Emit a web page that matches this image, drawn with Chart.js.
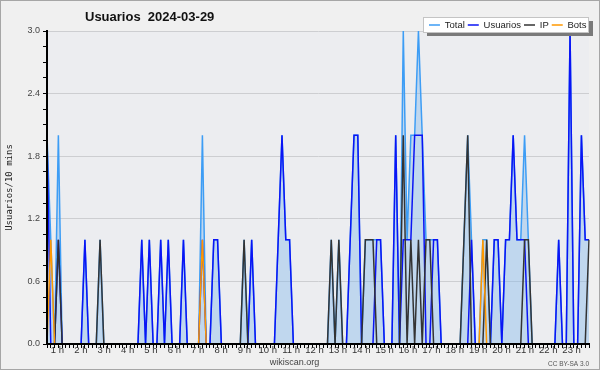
<!DOCTYPE html>
<html><head><meta charset="utf-8">
<script src="https://cdn.jsdelivr.net/npm/chart.js@4/dist/chart.umd.min.js"></script>
<style>html,body{margin:0;padding:0;background:#f0f0f0}#wrap{width:600px;height:370px}</style>
</head><body><div id="wrap"><canvas id="c" width="600" height="370"></canvas></div>
<script>
// 10-minute bins of the day (categories)
const timeLabels = [];
for (let h = 0; h < 24; h++) for (let m = 0; m < 60; m += 10) timeLabels.push(String(h).padStart(2,'0') + ':' + String(m).padStart(2,'0'));

const hourLabels = ['1 h','2 h','3 h','4 h','5 h','6 h','7 h','8 h','9 h','10 h','11 h','12 h','13 h','14 h','15 h','16 h','17 h','18 h','19 h','20 h','21 h','22 h','23 h'];
const yTickLabels = ['0.0','0.6','1.2','1.8','2.4','3.0'];

const total = [
 2,1,0,2,0,0,0,0,0,0,1,0,
 0,0,1,0,0,0,0,0,0,0,0,0,
 0,1,0,1,0,0,1,0,1,0,0,0,
 1,0,0,0,0,2,0,0,1,1,0,0,
 0,0,0,0,1,0,1,0,0,0,0,0,
 0,1,2,1,1,0,0,0,0,0,0,0,
 0,0,0,1,0,1,0,0,1,2,2,0,
 1,1,1,1,1,0,0,0,2,0,3,1,
 2,2,3,2,1,1,1,1,0,0,0,0,
 0,0,1,2,1,0,0,1,1,0,1,1,
 0,1,1,2,1,1,2,1,0,0,0,0,
 0,0,0,1,0,0,3,0,0,2,1,1
];
const usuarios = [
 2,0,0,1,0,0,0,0,0,0,1,0,
 0,0,0,0,0,0,0,0,0,0,0,0,
 0,1,0,1,0,0,1,0,1,0,0,0,
 1,0,0,0,0,1,0,0,1,1,0,0,
 0,0,0,0,0,0,1,0,0,0,0,0,
 0,1,2,1,1,0,0,0,0,0,0,0,
 0,0,0,0,0,0,0,0,1,2,2,0,
 0,0,0,1,1,0,0,0,2,0,1,1,
 1,2,2,2,0,0,1,1,0,0,0,0,
 0,0,0,0,1,0,0,0,0,0,1,1,
 0,1,1,2,1,1,1,0,0,0,0,0,
 0,0,0,1,0,0,3,0,0,2,1,1
];
const ip = [
 0,0,0,1,0,0,0,0,0,0,0,0,
 0,0,1,0,0,0,0,0,0,0,0,0,
 0,0,0,0,0,0,0,0,0,0,0,0,
 0,0,0,0,0,0,0,0,0,0,0,0,
 0,0,0,0,1,0,0,0,0,0,0,0,
 0,0,0,0,0,0,0,0,0,0,0,0,
 0,0,0,1,0,1,0,0,0,0,0,0,
 1,1,1,0,0,0,0,0,0,0,2,0,
 1,0,1,0,1,1,0,0,0,0,0,0,
 0,0,1,2,0,0,0,0,1,0,0,0,
 0,0,0,0,0,0,1,1,0,0,0,0,
 0,0,0,0,0,0,0,0,0,0,0,1
];
const bots = [
 0,1,0,0,0,0,0,0,0,0,0,0,
 0,0,0,0,0,0,0,0,0,0,0,0,
 0,0,0,0,0,0,0,0,0,0,0,0,
 0,0,0,0,0,1,0,0,0,0,0,0,
 0,0,0,0,0,0,0,0,0,0,0,0,
 0,0,0,0,0,0,0,0,0,0,0,0,
 0,0,0,0,0,0,0,0,0,0,0,0,
 0,0,0,0,0,0,0,0,0,0,0,0,
 0,0,0,0,0,0,0,0,0,0,0,0,
 0,0,0,0,0,0,0,1,0,0,0,0,
 0,0,0,0,0,0,0,0,0,0,0,0,
 0,0,0,0,0,0,0,0,0,0,0,0
];

const yTickValues = [];
for (let k = 0; k <= 20; k++) yTickValues.push(Math.round(k * 15) / 100);

const decor = {
  id: 'decor',
  beforeDraw(chart) {
    const {ctx, chartArea: a} = chart;
    ctx.save();
    ctx.fillStyle = '#f0f0f0'; ctx.fillRect(0, 0, chart.width, chart.height);
    ctx.fillStyle = '#ecedf0'; ctx.fillRect(a.left, a.top, a.right - a.left, a.bottom - a.top);
    ctx.strokeStyle = '#a6a6a6'; ctx.lineWidth = 1; ctx.strokeRect(0.5, 0.5, chart.width - 1, chart.height - 1);
    ctx.restore();
    if (chart.titleBlock) { chart.titleBlock.top = 9.3; chart.titleBlock.left = 85; }
    if (chart.legend) { chart.legend.top = -300; }
  },
  afterDatasetsDraw(chart) {
    const ctx = chart.ctx;
    ctx.save();
    ctx.fillStyle = '#7a7a7a'; ctx.fillRect(427, 21, 166, 15);
    ctx.fillStyle = '#ffffff'; ctx.fillRect(423, 17, 166, 16);
    ctx.strokeStyle = '#c4c4c4'; ctx.lineWidth = 1; ctx.strokeRect(423.5, 17.5, 165, 15);
    ctx.restore();
    const lg = chart.legend;
    if (lg) { lg.top = 17.25; lg.right = 589.5; lg.draw(); }
    ctx.save();
    ctx.font = '6.5px "Liberation Sans"'; ctx.fillStyle = '#555'; ctx.textAlign = 'right'; ctx.textBaseline = 'alphabetic';
    ctx.fillText('CC BY-SA 3.0', 589, 365.5);
    ctx.restore();
  }
};

const lineDs = (label, data, color, order, extra) => Object.assign({
  label, data, borderColor: color, backgroundColor: color, borderWidth: 1.5,
  pointRadius: 0, pointHoverRadius: 0, fill: false, tension: 0, order
}, extra || {});

new Chart(document.getElementById('c'), {
  type: 'line',
  data: {
    labels: timeLabels,
    datasets: [
      lineDs('Total', total, '#3d9df5', 4, {fill: 'origin', backgroundColor: 'rgba(130,185,235,0.42)'}),
      lineDs('Usuarios', usuarios, '#0a14f5', 3),
      lineDs('IP', ip, '#333333', 2),
      lineDs('Bots', bots, '#ff9900', 1)
    ]
  },
  options: {
    responsive: false, animation: false, devicePixelRatio: 1,
    layout: {padding: {left: 0, right: 11, top: 0, bottom: 0}},
    plugins: {
      tooltip: {enabled: false},
      title: {display: true, text: 'Usuarios  2024-03-29', align: 'start',
        font: {family: 'Liberation Sans', size: 13, weight: 'bold', lineHeight: 1.2},
        color: '#111', padding: {top: 0, bottom: 0.4}},
      subtitle: {display: true, position: 'bottom', text: 'wikiscan.org',
        font: {family: 'Liberation Sans', size: 9, lineHeight: 1.2}, color: '#444',
        padding: {top: 0, bottom: 2.5}},
      legend: {display: true, position: 'top', align: 'end', maxHeight: 15,
        labels: {usePointStyle: true, pointStyle: 'line', pointStyleWidth: 11, padding: 3,
          sort: (a, b) => a.datasetIndex - b.datasetIndex,
          font: {family: 'Liberation Sans', size: 9.5}, color: '#222'}}
    },
    scales: {
      x: {type: 'category', position: 'bottom', weight: 0, offset: false,
        grid: {display: true, drawOnChartArea: false, drawTicks: true, tickLength: 4, tickColor: '#000', tickWidth: 1, offset: false},
        border: {display: true, color: '#000', width: 2, z: 1},
        ticks: {display: false},
        afterFit(s) { s.height = 1; }},
      xh: {type: 'linear', position: 'bottom', weight: 1, min: 0.552, max: 23.744,
        grid: {display: false, drawTicks: false}, border: {display: false},
        afterBuildTicks(s) { s.ticks = hourLabels.map((t, i) => ({value: i + 1})); },
        ticks: {autoSkip: false, maxRotation: 0, minRotation: 0, padding: 0,
          font: {family: 'Liberation Sans', size: 9.5}, color: '#333',
          callback: (v) => hourLabels[Math.round(v) - 1]},
        afterFit(s) { s.height = 11.7; }},
      y: {type: 'linear', position: 'left', min: 0, max: 3,
        afterBuildTicks(s) { s.ticks = yTickValues.map(v => ({value: v})); },
        ticks: {autoSkip: false, padding: 3, font: {family: 'Liberation Sans', size: 9}, color: '#444',
          callback: (v, i) => (i % 4 === 0 ? yTickLabels[i / 4] : '')},
        grid: {drawTicks: true, tickLength: 4, tickColor: '#000', lineWidth: 1,
          color: (c) => (c.index % 4 === 0 ? '#cdced1' : 'rgba(0,0,0,0)')},
        border: {display: true, color: '#000', width: 2, z: 1},
        title: {display: true, text: 'Usuarios/10 mins', font: {family: 'DejaVu Sans Mono', size: 9}, color: '#222', padding: {top: 4, bottom: 0}},
        afterFit(s) { s.width = 47; }}
    }
  },
  plugins: [decor]
});
</script>
</body></html>
